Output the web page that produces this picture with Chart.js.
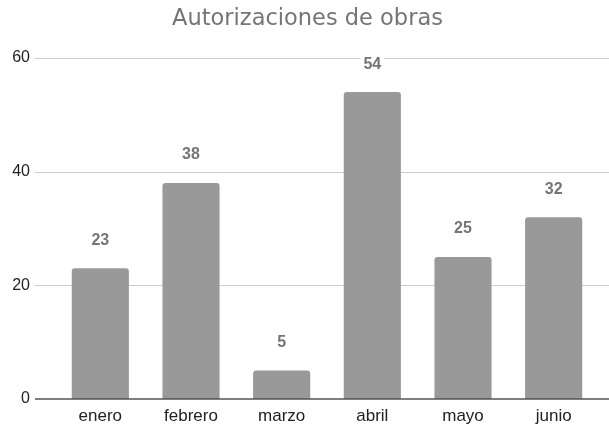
<!DOCTYPE html>
<html>
<head>
<meta charset="utf-8">
<script src="https://cdn.jsdelivr.net/npm/chart.js@4/dist/chart.umd.min.js"></script>
<style>
  html, body { margin: 0; padding: 0; background: #fff; }
  #wrap { width: 609px; height: 427px; }
</style>
</head>
<body>
<div id="wrap"><canvas id="chart" width="609" height="427"></canvas></div>
<script>
const months = ['enero', 'febrero', 'marzo', 'abril', 'mayo', 'junio'];
const obras = [23, 38, 5, 54, 25, 32];
const yTicks = [0, 20, 40, 60];

const gray = '#999999';
const textGray = '#757575';
const sans = '"Liberation Sans", Arial, sans-serif';

// horizontal grid lines that run past the plot area, plus the dark baseline
const wideGrid = {
    id: 'wideGrid',
    afterLayout(chart) {
        // nudge the title a little to the right
        if (chart.titleBlock) {
            chart.titleBlock.left += 8;
            chart.titleBlock.right += 8;
        }
    },
    beforeDatasetsDraw(chart) {
        const ctx = chart.ctx;
        const y = chart.scales.y;
        ctx.save();
        ctx.strokeStyle = '#cccccc';
        ctx.lineWidth = 1;
        yTicks.forEach(v => {
            if (v === 0) return;
            const py = Math.round(y.getPixelForValue(v)) + 0.5;
            ctx.beginPath();
            ctx.moveTo(35, py);
            ctx.lineTo(chart.width, py);
            ctx.stroke();
        });
        ctx.restore();
    },
    afterDatasetsDraw(chart) {
        const ctx = chart.ctx;
        const py = Math.round(chart.scales.y.getPixelForValue(0));
        ctx.save();
        ctx.strokeStyle = '#555555';
        ctx.lineWidth = 1.5;
        ctx.beginPath();
        ctx.moveTo(35, py);
        ctx.lineTo(chart.width, py);
        ctx.stroke();

        // value labels above each bar
        ctx.font = 'bold 16px ' + sans;
        ctx.textAlign = 'center';
        ctx.textBaseline = 'middle';
        chart.getDatasetMeta(0).data.forEach((bar, i) => {
            const txt = String(obras[i]);
            const w = ctx.measureText(txt).width;
            const ly = bar.y - 28;
            ctx.fillStyle = '#ffffff';
            ctx.fillRect(bar.x - w / 2 - 3, ly - 9, w + 6, 18);
            ctx.fillStyle = textGray;
            ctx.fillText(txt, bar.x, ly);
        });
        ctx.restore();
    }
};

new Chart(document.getElementById('chart'), {
    type: 'bar',
    data: {
        labels: months,
        datasets: [{
            label: 'Autorizaciones',
            data: obras,
            backgroundColor: gray,
            borderRadius: { topLeft: 3, topRight: 3 },
            borderSkipped: 'bottom',
            categoryPercentage: 1,
            barPercentage: 0.63
        }]
    },
    options: {
        responsive: false,
        animation: false,
        layout: { padding: { left: 0, right: 10, top: 0, bottom: 0 } },
        plugins: {
            legend: { display: false },
            tooltip: { enabled: false },
            title: {
                display: true,
                text: 'Autorizaciones de obras',
                color: textGray,
                font: { family: '"DejaVu Sans", sans-serif', size: 22.5, weight: 'normal', lineHeight: 1.2 },
                padding: { top: 6, bottom: 25 }
            }
        },
        scales: {
            x: {
                grid: { display: false, drawTicks: false },
                border: { display: false },
                ticks: {
                    color: '#222222',
                    font: { family: sans, size: 17 },
                    padding: 7
                },
                afterFit(scale) { scale.height = 28; }
            },
            y: {
                min: 0,
                max: 60,
                grid: { display: false, drawTicks: false },
                border: { display: false },
                ticks: {
                    stepSize: 20,
                    color: '#222222',
                    font: { family: sans, size: 16 },
                    padding: 25
                },
                afterFit(scale) {
                    scale.width = 55;
                    scale.paddingTop = 0;
                    scale.paddingBottom = 0;
                }
            }
        }
    },
    plugins: [wideGrid]
});
</script>
</body>
</html>
